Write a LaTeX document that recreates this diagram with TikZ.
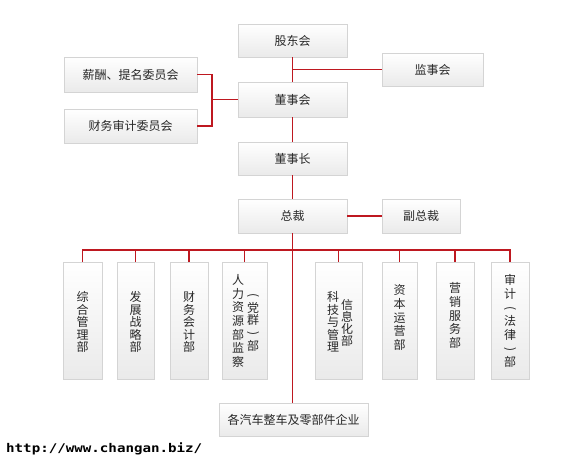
\documentclass[tikz,border=0pt]{standalone}
\usepackage{fontspec}
\newfontfamily\cjk{Noto Sans CJK SC}
\newfontfamily\urlfont{DejaVu Sans Mono}[FakeStretch=1.18]
\usetikzlibrary{shadows}
\definecolor{linered}{RGB}{190,24,32}
\definecolor{boxedge}{RGB}{212,212,212}
\definecolor{boxbot}{RGB}{234,234,234}
\definecolor{txt}{RGB}{40,40,40}
\newcommand{\vlp}{\rotatebox[origin=c]{-90}{(}}
\newcommand{\vrp}{\rotatebox[origin=c]{-90}{)}}
\begin{document}
\begin{tikzpicture}[x=1pt,y=-1pt,
  box/.style={draw=boxedge, line width=0.6pt, top color=white, bottom color=boxbot,
    inner sep=0pt, font=\cjk\fontsize{12}{14}\selectfont, text=txt,
    drop shadow={shadow xshift=0.8pt, shadow yshift=-0.8pt, opacity=0.12, fill=black}},
  conn/.style={draw=linered, line width=1.3pt},
  vtext/.style={font=\cjk\fontsize{12}{#1}\selectfont, align=center, inner sep=0pt, text=txt}]
\fill[white] (0,0) rectangle (581,462);
\useasboundingbox (0,0) rectangle (581,462);

% boxes
\node[box, minimum width=109pt, minimum height=33pt] (gudong) at (292.5,40.5) {股东会};
\node[box, minimum width=101pt, minimum height=33pt] (jianshi) at (432.5,69.5) {监事会};
\node[box, minimum width=109pt, minimum height=35pt] (dongshi) at (292.5,99.5) {董事会};
\node[box, minimum width=133pt, minimum height=35pt] (xinchou) at (130.5,74.5) {薪酬、提名委员会};
\node[box, minimum width=133pt, minimum height=34pt] (caiwuwy) at (130.5,126) {财务审计委员会};
\node[box, minimum width=109pt, minimum height=33pt] (dsz) at (292.5,158.5) {董事长};
\node[box, minimum width=109pt, minimum height=34pt] (zongcai) at (292.5,216) {总裁};
\node[box, minimum width=78pt, minimum height=34pt] (fzc) at (421,216) {副总裁};
\node[box, minimum width=149pt, minimum height=33pt] (qiye) at (293.5,419.5) {各汽车整车及零部件企业};

% bottom department boxes
\node[box, minimum width=39pt, minimum height=117pt] (b1) at (82.5,320.5) {};
\node[box, minimum width=37pt, minimum height=117pt] (b2) at (135.5,320.5) {};
\node[box, minimum width=38pt, minimum height=117pt] (b3) at (189,320.5) {};
\node[box, minimum width=45pt, minimum height=117pt] (b4) at (244.5,320.5) {};
\node[box, minimum width=47pt, minimum height=117pt] (b5) at (338.5,320.5) {};
\node[box, minimum width=35pt, minimum height=117pt] (b6) at (399.5,320.5) {};
\node[box, minimum width=38pt, minimum height=117pt] (b7) at (455,320.5) {};
\node[box, minimum width=38pt, minimum height=117pt] (b8) at (510,320.5) {};

% vertical texts
\node[vtext=12.5pt] (t1) at (82.5,322) {综\\合\\管\\理\\部};
\node[vtext=12.5pt] (t2) at (135.5,322) {发\\展\\战\\略\\部};
\node[vtext=12.5pt] (t3) at (189,322) {财\\务\\会\\计\\部};
\node[vtext=13.7pt] (t4a) at (238,321) {人\\力\\资\\源\\部\\监\\察};
\node[vtext=12.75pt] (t4b) at (253,322.5) {\vlp\\党\\群\\\vrp\\部};
\node[vtext=12.5pt] (t5a) at (333,322) {科\\技\\与\\管\\理};
\node[vtext=12pt] (t5b) at (347,323) {信\\息\\化\\部};
\node[vtext=13.75pt] (t6) at (399.5,317.5) {资\\本\\运\\营\\部};
\node[vtext=13.75pt] (t7) at (455,315.5) {营\\销\\服\\务\\部};
\node[vtext=13.7pt] (t8) at (510,321) {审\\计\\\vlp\\法\\律\\\vrp\\部};

% connectors
\coordinate (bus) at (0,250);
\coordinate (brk) at (212,99.5);
\draw[conn] (gudong.south) -- (dongshi.north);
\draw[conn] (jianshi.west) -- (jianshi.west -| gudong.south);
\draw[conn] (dongshi.south) -- (dsz.north);
\draw[conn] (dsz.south) -- (zongcai.north);
\draw[conn] (zongcai.east) -- (fzc.west);
\draw[conn] (xinchou.east) -| (brk) |- (caiwuwy.east);
\draw[conn] (brk) -- (dongshi.west);
\draw[conn] (zongcai.south) -- (zongcai.south |- qiye.north);
\draw[conn] (b1.north) |- (b8.north |- bus) -- (b8.north);
\foreach \b in {b2,b3,b4,b5,b6,b7}
  \draw[conn] (\b.north) -- (\b.north |- bus);

% url
\node[anchor=west, inner sep=0pt, font=\urlfont\bfseries\fontsize{12}{14}\selectfont, text=black] (url) at (6,449) {http://www.changan.biz/};
\end{tikzpicture}
\end{document}
